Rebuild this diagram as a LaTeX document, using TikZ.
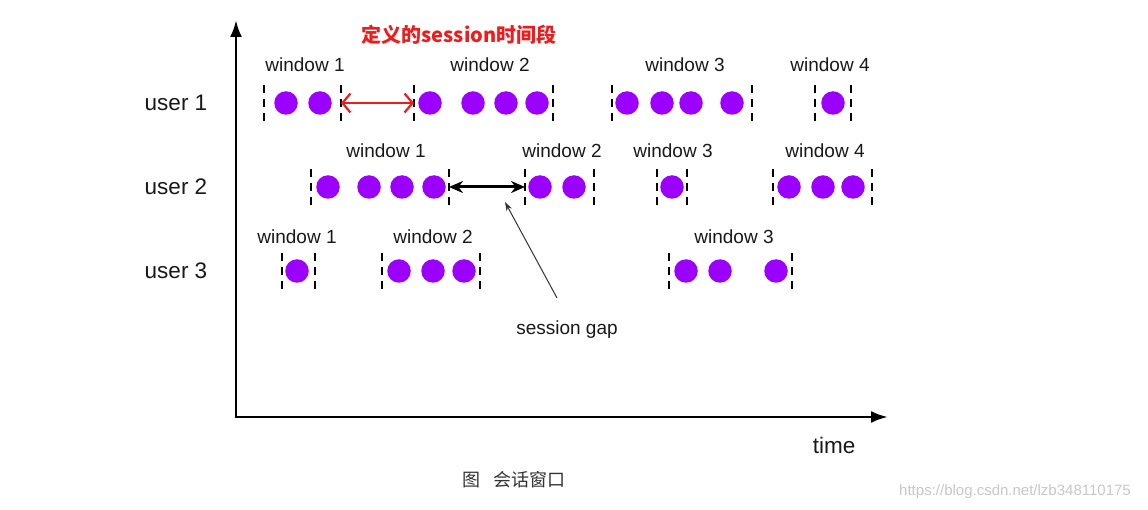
\documentclass[tikz,border=0pt]{standalone}
\usepackage{fontspec}
\setmainfont{Liberation Sans}
\newfontfamily\cjk{Noto Sans CJK SC}
\usetikzlibrary{arrows.meta}
\definecolor{dotpurple}{HTML}{9B00FF}
\definecolor{titlered}{HTML}{EE1C1C}
\definecolor{capgray}{HTML}{333333}
\definecolor{wmgray}{HTML}{C8C8C8}
\tikzset{
  dot/.style={circle,fill=dotpurple,inner sep=0pt,minimum size=23.5pt},
  bound/.style={line width=2pt,dash pattern=on 8pt off 6pt},
  wlab/.style={font=\fontsize{19}{22}\selectfont,text=black!90,inner sep=0pt},
  ulab/.style={font=\fontsize{22.5}{26}\selectfont,text=black!90,inner sep=0pt},
  axisline/.style={line width=2.8pt,line join=miter,{Latex[length=17pt,width=12pt]}-{Latex[length=17pt,width=12pt]}},
  gaparrow/.style={line width=3pt,{Stealth[length=14pt,width=12pt]}-{Stealth[length=14pt,width=12pt]}},
  redarrow/.style={line width=2.2pt,draw=titlered,{Straight Barb[length=8pt,width=19pt]}-{Straight Barb[length=8pt,width=19pt]}},
  pointer/.style={line width=1pt,black!80,-{Stealth[length=9pt,width=6pt]}}
}
\begin{document}
\begin{tikzpicture}[x=1pt,y=-1pt]
\useasboundingbox[fill=white] (0,0) rectangle (1148,510);
% axes
\coordinate (O) at (236,417);
\coordinate (Ytip) at (236,20);
\coordinate (Xtip) at (888,417);
\draw[axisline] (Ytip) -- (O) -- (Xtip);
\node[ulab] (time) at (834,445) {time};
% user labels
\node[ulab] (u1) at (176,103) {user 1};
\node[ulab] (u2) at (176,187) {user 2};
\node[ulab] (u3) at (176,271) {user 3};
% window boundaries
\foreach \n/\x/\y in {
  aL/264/103, aR/341/103, bL/414/103, bR/553/103, cL/612/103, cR/752/103, dL/815/103, dR/851/103,
  eL/311/187, eR/449/187, fL/525/187, fR/594/187, gL/657/187, gR/687/187, hL/773/187, hR/872/187,
  iL/282/271, iR/315/271, jL/382/271, jR/480/271, kL/669/271, kR/792/271}
{
  \coordinate (\n) at (\x,\y);
  \draw[bound] ([yshift=18pt]\n) -- ([yshift=-20pt]\n);
}
% dots
\foreach \n/\x/\y in {
  a1/286/103, a2/320/103,
  b1/430/103, b2/473/103, b3/506/103, b4/537/103,
  c1/627/103, c2/662/103, c3/691/103, c4/732/103,
  d1/833/103,
  e1/328/187, e2/369/187, e3/402/187, e4/434/187,
  f1/540/187, f2/574/187,
  g1/672/187,
  h1/789/187, h2/823/187, h3/853/187,
  i1/297/271,
  j1/399/271, j2/433/271, j3/464/271,
  k1/686/271, k2/720/271, k3/776/271}
{
  \node[dot] (\n) at (\x,\y) {};
}
% window labels
\node[wlab] (la) at (305,65) {window 1};
\node[wlab] (lb) at (490,65) {window 2};
\node[wlab] (lc) at (685,65) {window 3};
\node[wlab] (ld) at (830,65) {window 4};
\node[wlab] (le) at (386,151) {window 1};
\node[wlab] (lf) at (562,151) {window 2};
\node[wlab] (lg) at (673,151) {window 3};
\node[wlab] (lh) at (825,151) {window 4};
\node[wlab] (li) at (297,237) {window 1};
\node[wlab] (lj) at (433,237) {window 2};
\node[wlab] (lk) at (734,237) {window 3};
% session arrows
\draw[redarrow] (aR) -- (bL);
\draw[gaparrow] (eR) -- (fL);
\node[wlab] (gap) at (567,330) {session gap};
\coordinate (gapfoot) at (557,298);
\coordinate (gaptip) at (505,202);
\draw[pointer] (gapfoot) -- (gaptip);
% title
\node[inner sep=0pt,text=titlered,font=\cjk\bfseries\fontsize{20}{24}\selectfont] (title) at (459,35) {定义的session时间段};
% caption
\node[inner sep=0pt,text=capgray,font=\cjk\fontsize{18}{21}\selectfont] (cap) at (514,480) {图\hspace{0.7em}会话窗口};
% watermark
\node[inner sep=0pt,text=wmgray,font=\fontsize{15}{18}\selectfont] (wm) at (1015,492) {https://blog.csdn.net/lzb348110175};
\end{tikzpicture}
\end{document}
